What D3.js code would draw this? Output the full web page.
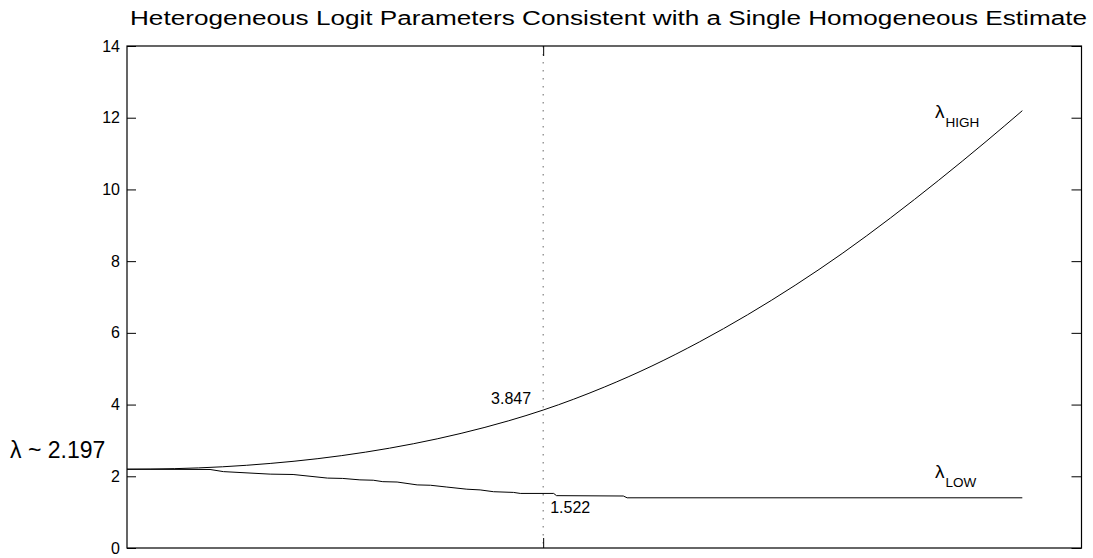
<!DOCTYPE html>
<html>
<head>
<meta charset="utf-8">
<script src="https://cdn.jsdelivr.net/npm/d3@7"></script>
<style>
  body { margin: 0; background: white; }
  text { font-family: "Liberation Sans", Arial, sans-serif; fill: black; }
</style>
</head>
<body>
<script>
// Values (x is an unlabeled parameter, 0-100)
const titleText = "Heterogeneous Logit Parameters Consistent with a Single Homogeneous Estimate";
const yTicks = [0, 2, 4, 6, 8, 10, 12, 14];
const homogeneous = 2.197;
const markX = 43.6;
const markHigh = 3.847;
const markLow = 1.522;

const highX = [0, 5, 10, 15, 20, 25, 30, 35, 40, 43.6, 50, 55, 60, 65, 70, 75, 80, 85, 90, 93.8];
const highY = [2.197, 2.213, 2.265, 2.358, 2.492, 2.674, 2.907, 3.197, 3.549, 3.847, 4.487, 5.077,
               5.752, 6.502, 7.327, 8.227, 9.207, 10.247, 11.337, 12.196];

const lowX = [0, 8.7, 10.1, 15.0, 17.4, 21.0, 22.6, 24.4, 25.8, 26.8, 28.3, 30.4, 31.8, 33.5,
              35.6, 37.0, 38.4, 40.5, 41.2, 44.7, 45.0, 52.0, 52.4, 93.8];
const lowY = [2.197, 2.19, 2.13, 2.06, 2.05, 1.95, 1.94, 1.90, 1.89, 1.85, 1.84, 1.76, 1.75, 1.70,
              1.64, 1.62, 1.57, 1.55, 1.522, 1.522, 1.46, 1.45, 1.40, 1.40];

const width = 1093, height = 558;
const margin = { top: 46, right: 11.5, bottom: 10, left: 127 };

const svg = d3.select("body")
              .append("svg")
              .attr("width", width)
              .attr("height", height);

const x = d3.scaleLinear()
            .domain([0, 100])
            .range([margin.left, width - margin.right]);

const y = d3.scaleLinear()
            .domain([0, 14])
            .range([height - margin.bottom, margin.top]);

// Title
svg.append("text")
   .attr("x", 130)
   .attr("y", 25)
   .attr("font-size", 20)
   .attr("textLength", 957)
   .attr("lengthAdjust", "spacingAndGlyphs")
   .text(titleText);

// Dotted marker line
svg.append("line")
   .attr("x1", x(markX))
   .attr("x2", x(markX))
   .attr("y1", y(14))
   .attr("y2", y(0))
   .attr("stroke", "#666")
   .attr("stroke-width", 1)
   .attr("stroke-dasharray", "1.5,6.5");

// Axes, ticks pointing inward
const styleAxis = (g) => {
    g.select(".domain").remove();
    g.selectAll(".tick line").attr("stroke", "black");
    g.selectAll(".tick text")
     .attr("font-size", 16)
     .attr("font-family", "Liberation Sans, Arial, sans-serif");
};

svg.append("g")
   .attr("transform", `translate(${margin.left},0)`)
   .call(d3.axisLeft(y).tickValues(yTicks).tickSizeInner(-9).tickSizeOuter(0).tickPadding(7))
   .call(styleAxis);

svg.append("g")
   .attr("transform", `translate(${width - margin.right},0)`)
   .call(d3.axisRight(y).tickValues(yTicks).tickSizeInner(-10).tickSizeOuter(0).tickFormat(""))
   .call(styleAxis);

svg.append("g")
   .attr("transform", `translate(0,${y(0)})`)
   .call(d3.axisBottom(x).tickValues([markX]).tickSizeInner(-10).tickSizeOuter(0).tickFormat(""))
   .call(styleAxis);

svg.append("g")
   .attr("transform", `translate(0,${y(14)})`)
   .call(d3.axisTop(x).tickValues([markX]).tickSizeInner(-10).tickSizeOuter(0).tickFormat(""))
   .call(styleAxis);

// Box
svg.append("rect")
   .attr("x", x(0))
   .attr("y", y(14))
   .attr("width", x(100) - x(0))
   .attr("height", y(0) - y(14))
   .attr("fill", "none")
   .attr("stroke", "black")
   .attr("stroke-width", 1.2);

// Curves
const highLine = d3.line()
                   .x((d, i) => x(highX[i]))
                   .y(d => y(d))
                   .curve(d3.curveMonotoneX);

const lowLine = d3.line()
                  .x((d, i) => x(lowX[i]))
                  .y(d => y(d));

svg.append("path")
   .attr("d", highLine(highY))
   .attr("fill", "none")
   .attr("stroke", "black")
   .attr("stroke-width", 1);

svg.append("path")
   .attr("d", lowLine(lowY))
   .attr("fill", "none")
   .attr("stroke", "black")
   .attr("stroke-width", 1);

// Annotations
svg.append("text")
   .attr("x", 10)
   .attr("y", y(homogeneous) - 11)
   .attr("font-size", 23)
   .text("λ ~ " + homogeneous);

svg.append("text")
   .attr("x", x(markX) - 12)
   .attr("y", y(markHigh) - 6)
   .attr("text-anchor", "end")
   .attr("font-size", 16)
   .text(markHigh);

svg.append("text")
   .attr("x", x(markX) + 7)
   .attr("y", y(markLow) + 20)
   .attr("font-size", 16)
   .text(markLow);

function lambdaLabel(px, py, sub) {
    const t = svg.append("text")
                 .attr("x", px)
                 .attr("y", py)
                 .attr("font-size", 19);
    t.append("tspan").text("λ");
    t.append("tspan")
     .attr("font-size", 13.5)
     .attr("dx", 1)
     .attr("dy", 9)
     .text(sub);
}

lambdaLabel(935, 118, "HIGH");
lambdaLabel(935, 478, "LOW");
</script>
</body>
</html>
